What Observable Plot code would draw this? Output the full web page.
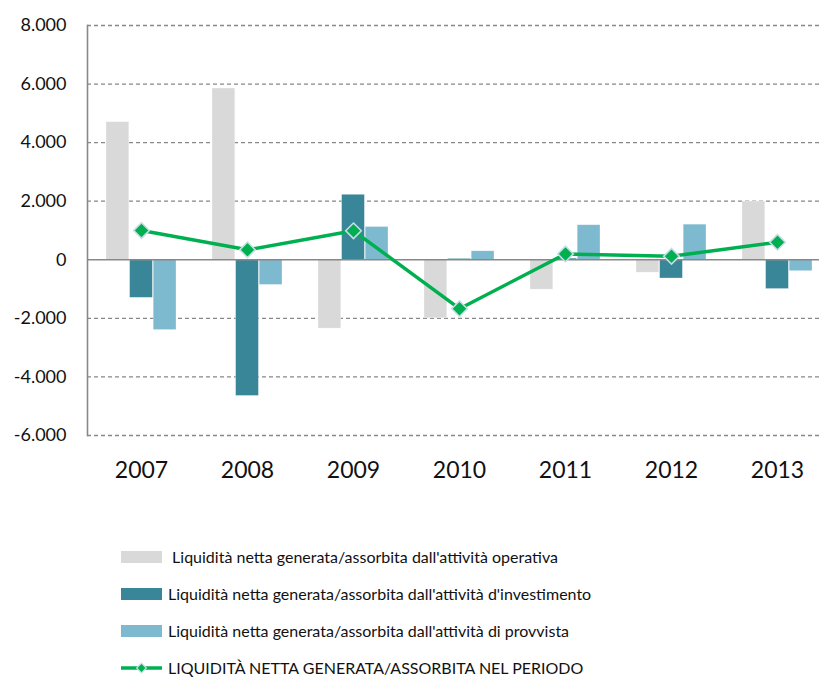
<!DOCTYPE html>
<html>
<head>
<meta charset="utf-8">
<script src="https://cdn.jsdelivr.net/npm/d3@7"></script>
<script src="https://cdn.jsdelivr.net/npm/@observablehq/plot@0.6"></script>
<style>
  body { margin: 0; background: #fff; font-family: Lato, "Open Sans", sans-serif; }
  #chart { position: relative; width: 819px; }
  .legend { position: relative; margin-top: 38px; margin-left: 121px; font-family: Lato, sans-serif; font-size: 16px; color: #111; }
  .item { display: flex; align-items: center; height: 37px; }
  .sw { width: 41px; height: 12px; margin-right: 6px; flex: none; }
</style>
</head>
<body>
<div id="chart"></div>
<script>
const years = ["2007", "2008", "2009", "2010", "2011", "2012", "2013"];
const seriesNames = [
  "Liquidità netta generata/assorbita dall'attività operativa",
  "Liquidità netta generata/assorbita dall'attività d'investimento",
  "Liquidità netta generata/assorbita dall'attività di provvista"
];
const operativa    = [4700, 5850, -2350, -2000, -1020, -440, 1990];
const investimento = [-1300, -4650, 2220, 30, 40, -640, -1000];
const provvista    = [-2400, -860, 1120, 290, 1180, 1200, -390];
const lineName = "LIQUIDITÀ NETTA GENERATA/ASSORBITA NEL PERIODO";
const periodo = [1000, 340, 990, -1670, 200, 120, 600];
const yTicks = [-6000, -4000, -2000, 0, 2000, 4000, 6000, 8000];
const colors = ["#D9D9D9", "#3A8699", "#7DB9CF"];
const lineColor = "#00B050";

const seriesValues = [operativa, investimento, provvista];
const bars = years.flatMap((year, i) =>
  seriesNames.map((s, k) => ({year, series: s, k, value: seriesValues[k][i]})));
const linePts = years.map((year, i) => ({year, value: periodo[i]}));

const fmt = d3.formatLocale({decimal: ",", thousands: ".", grouping: [3], currency: ["€", ""], minus: "-"}).format(",");

const xOpts = {type: "band", domain: years, range: [87, 832], paddingInner: 0.335, paddingOuter: 0.1675, align: 0.5};
const bw = Plot.scale({x: xOpts}).bandwidth;
const third = bw / seriesNames.length;

const plot = Plot.plot({
  width: 819,
  height: 500,
  marginLeft: 87,
  marginRight: 0,
  marginTop: 25,
  marginBottom: 65,
  style: {fontFamily: "Lato, sans-serif", color: "#111", background: "#fff", overflow: "visible"},
  x: {...xOpts, axis: null},
  y: {domain: [-6000, 8000], axis: null},
  color: {domain: seriesNames, range: colors},
  marks: [
    Plot.ruleY(yTicks.filter(d => d !== 0), {stroke: "#888", strokeOpacity: 1, strokeWidth: 1.3, strokeDasharray: "4,3"}),
    ...seriesNames.map((s, k) => Plot.barY(bars.filter(d => d.k === k), {
      x: "year", y: "value", fill: "series",
      insetLeft: k * third, insetRight: (seriesNames.length - 1 - k) * third,
      stroke: "#fff", strokeOpacity: 0.5, strokeWidth: 0.6
    })),
    Plot.ruleY([0], {stroke: "#888", strokeWidth: 1.6}),
    Plot.frame({anchor: "left", stroke: "#888", strokeWidth: 1.6}),
    Plot.axisX({tickSize: 0, tickPadding: 26, fontSize: 23, label: null, fill: "#111"}),
    Plot.axisY({ticks: yTicks, tickFormat: fmt, tickSize: 0, tickPadding: 21, fontSize: 18, label: null, fill: "#111"}),
    Plot.line(linePts, {x: "year", y: "value", stroke: lineColor, strokeWidth: 3.5}),
    Plot.dot(linePts, {x: "year", y: "value", symbol: "diamond2", r: 7, fill: lineColor, stroke: "#C5DDE6", strokeWidth: 1.6})
  ]
});
document.getElementById("chart").appendChild(plot);

// Legend
const legend = d3.select("#chart").append("div").attr("class", "legend");
seriesNames.forEach((s, k) => {
  const it = legend.append("div").attr("class", "item");
  it.append("div").attr("class", "sw").style("background", colors[k]);
  it.append("span").text((k === 0 ? "\u00a0" : "") + s);
});
const li = legend.append("div").attr("class", "item");
const svg = li.append("svg").attr("width", 41).attr("height", 14).style("margin-right", "6px").style("flex", "none");
svg.append("line").attr("x1", 0).attr("x2", 41).attr("y1", 7).attr("y2", 7).attr("stroke", lineColor).attr("stroke-width", 3.5);
svg.append("path").attr("d", d3.symbol(d3.symbolDiamond2, 60)()).attr("transform", "translate(20.5,7)").attr("fill", lineColor).attr("stroke", "#C5DDE6").attr("stroke-width", 1.2);
li.append("span").text(lineName);
</script>
</body>
</html>
